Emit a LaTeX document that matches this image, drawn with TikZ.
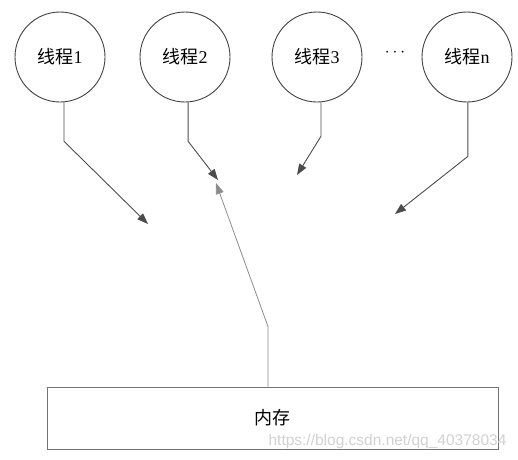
\documentclass[tikz,border=0pt]{standalone}
\usepackage{fontspec}
\setmainfont{Liberation Serif}
\newfontfamily\cjk{Noto Sans CJK SC}
\newfontfamily\wm{Liberation Sans}
\usetikzlibrary{arrows.meta}

\begin{document}
\begin{tikzpicture}[x=1pt,y=1pt]
    \tikzstyle{every node}+=[inner sep=0pt, font=\fontsize{18}{20}\selectfont]
    \tikzstyle{thread}=[draw=black!75, line width=0.9pt, circle, minimum size=90pt]
    \tikzstyle{link}=[draw=black!70, line width=0.9pt, -{Triangle[length=11pt,width=8pt,fill=black!70]}]
    \tikzstyle{back}=[draw=black!45, line width=0.8pt, -{Triangle[length=11pt,width=8pt,fill=black!45]}]
    \useasboundingbox (0,0) rectangle (518,-459);
    \node [thread] (t1) at (60,-57) {{\cjk 线程}1};
    \node [thread] (t2) at (185,-57) {{\cjk 线程}2};
    \node [thread] (t3) at (317,-57) {{\cjk 线程}3};
    \node [thread] (tn) at (467,-57) {{\cjk 线程}n};
    \node (dots) at (395,-53) {$\cdots$};
    \node [draw=black!55, line width=0.9pt, minimum width=451pt, minimum height=62pt] (mem) at (272.5,-418) {\cjk 内存};
    \node [text=black!18, font=\fontsize{15.5}{17}\wm] (mark) at (387.5,-441) {https://blog.csdn.net/qq\_40378034};
    \coordinate (e1) at (148,-224);
    \coordinate (e2) at (218,-180);
    \coordinate (e3) at (297,-175);
    \coordinate (en) at (395,-214);
    \coordinate (em) at (216,-183);
    \draw [link] (t1.-85) -- ++(0,-39) -- (e1);
    \draw [link] (t2.-86) -- ++(0,-39) -- (e2);
    \draw [link] (t3.-85) -- ++(0,-34) -- (e3);
    \draw [link] (tn.-89) -- ++(0,-54) -- (en);
    \draw [back] (mem.north) ++(-4.5,0) -- ++(0,60) -- (em);
\end{tikzpicture}
\end{document}
